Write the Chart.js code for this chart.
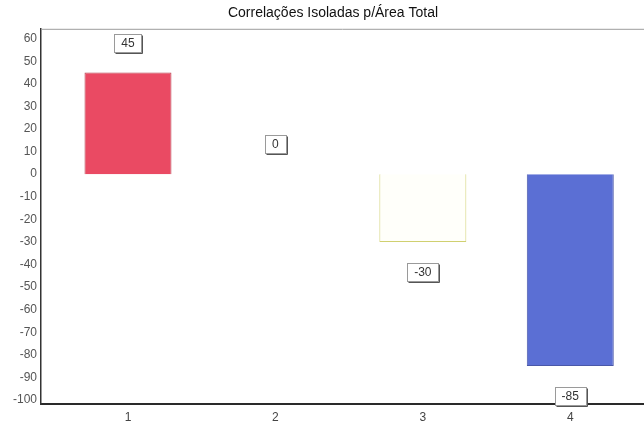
<!DOCTYPE html>
<html>
<head>
<meta charset="utf-8">
<script src="https://cdn.jsdelivr.net/npm/chart.js@4.4.0/dist/chart.umd.min.js"></script>
<style>
  body { margin: 0; background: #fff; }
  canvas { display: block; }
</style>
</head>
<body>
<canvas id="chartContainer" width="644" height="425"></canvas>
<script>
var categories = ['1', '2', '3', '4'];
var values = [45, 0, -30, -85];
var yTicks = [60, 50, 40, 30, 20, 10, 0, -10, -20, -30, -40, -50, -60, -70, -80, -90, -100];
var titleText = 'Correlações Isoladas p/Área Total';

var fillColors = ['#ea4a63', '#e8fbfb', '#fffffa', '#5b6fd4'];
var edgeColors = ['#b8404f', '#d8f0f0', '#d0d070', '#4a58a8'];

// value boxes above/below each bar end
var valueBoxes = {
	id: 'valueBoxes',
	afterDatasetsDraw: function (chart) {
		var ctx = chart.ctx;
		var yScale = chart.scales.y;
		var meta = chart.getDatasetMeta(0);
		ctx.save();
		ctx.font = '12px "Liberation Sans", Arial, sans-serif';
		ctx.textAlign = 'center';
		ctx.textBaseline = 'middle';
		meta.data.forEach(function (bar, i) {
			var v = values[i];
			var y = yScale.getPixelForValue(v) + (v < 0 ? 30 : -30);
			var txt = String(v);
			var w = Math.round(ctx.measureText(txt).width) + 14;
			var h = 18;
			var x0 = Math.round(bar.x - w / 2) + 0.5;
			var y0 = Math.round(y - h / 2) + 0.5;
			ctx.fillStyle = '#fff';
			ctx.fillRect(x0, y0, w, h);
			ctx.strokeStyle = '#9a9a9a';
			ctx.lineWidth = 1;
			ctx.strokeRect(x0, y0, w, h);
			ctx.strokeStyle = '#555';
			ctx.beginPath();
			ctx.moveTo(x0 + 1, y0 + h + 1);
			ctx.lineTo(x0 + w + 1, y0 + h + 1);
			ctx.lineTo(x0 + w + 1, y0 + 1);
			ctx.stroke();
			ctx.fillStyle = '#333';
			ctx.fillText(txt, bar.x, y + 1);
		});
		ctx.restore();
	}
};

// light top border of the plot frame
var topFrame = {
	id: 'topFrame',
	afterDraw: function (chart) {
		var a = chart.chartArea;
		var ctx = chart.ctx;
		ctx.save();
		ctx.strokeStyle = '#9c9c9c';
		ctx.lineWidth = 1;
		ctx.beginPath();
		ctx.moveTo(a.left, a.top + 0.5);
		ctx.lineTo(a.right, a.top + 0.5);
		ctx.stroke();
		ctx.restore();
	}
};

var points = values.map(function (v, i) { return { x: i + 1, y: v }; });

var myChart = document.getElementById('chartContainer').getContext('2d');

var popChart = new Chart(myChart, {
	type: 'bar',
	data: {
		datasets: [{
			label: titleText,
			data: points,
			backgroundColor: fillColors,
			borderColor: edgeColors,
			borderWidth: 1,
			categoryPercentage: 1,
			barPercentage: 0.59
		}]
	},
	options: {
		responsive: false,
		animation: false,
		// title sits a little right of the canvas centre
		layout: { padding: { left: 0, right: -22, top: 0, bottom: 0 } },
		plugins: {
			legend: { display: false },
			tooltip: { enabled: false },
			title: {
				display: true,
				text: titleText,
				color: '#111',
				font: { family: '"Liberation Sans", Arial, sans-serif', size: 14, weight: 'normal' },
				padding: { top: 5, bottom: 7 }
			}
		},
		scales: {
			x: {
				type: 'linear',
				offset: false,
				min: 0.41,
				max: 4.5,
				grid: { display: false, drawTicks: false, offset: false },
				border: { display: true, color: '#2a2a2a', width: 2 },
				afterBuildTicks: function (scale) {
					scale.ticks = categories.map(function (c, i) { return { value: i + 1 }; });
				},
				afterFit: function (scale) { scale.height = 21; },
				ticks: {
					color: '#444',
					padding: 6,
					font: { family: '"Liberation Sans", Arial, sans-serif', size: 12 },
					callback: function (v, i) { return categories[i]; }
				}
			},
			y: {
				min: -101.8,
				max: 64.4,
				grid: { display: false, drawTicks: false },
				border: { display: true, color: '#333', width: 1.5 },
				afterBuildTicks: function (scale) {
					scale.ticks = yTicks.map(function (v) { return { value: v }; });
				},
				afterFit: function (scale) { scale.width = 41; },
				ticks: {
					color: '#555',
					padding: 4,
					font: { family: '"Liberation Sans", Arial, sans-serif', size: 12 },
					callback: function (v, i) { return String(yTicks[i]); }
				}
			}
		}
	},
	plugins: [valueBoxes, topFrame]
});
</script>
</body>
</html>
